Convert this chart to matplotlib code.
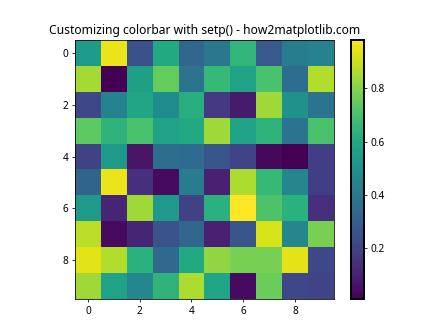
import numpy as np
import matplotlib
matplotlib.use('Agg')
import matplotlib.pyplot as plt

plt.rcParams['font.family'] = ['Noto Sans', 'DejaVu Sans']
plt.rcParams['font.size'] = 10.4

# 10x10 values (viridis)
row_0 = [0.54, 0.95, 0.25, 0.60, 0.33, 0.40, 0.65, 0.28, 0.42, 0.44]
row_1 = [0.85, 0.01, 0.56, 0.75, 0.38, 0.66, 0.57, 0.70, 0.36, 0.87]
row_2 = [0.22, 0.44, 0.58, 0.48, 0.62, 0.17, 0.08, 0.84, 0.51, 0.38]
row_3 = [0.74, 0.64, 0.70, 0.57, 0.60, 0.84, 0.57, 0.64, 0.38, 0.70]
row_4 = [0.20, 0.53, 0.06, 0.36, 0.35, 0.27, 0.21, 0.03, 0.01, 0.19]
row_5 = [0.32, 0.95, 0.14, 0.04, 0.42, 0.10, 0.86, 0.66, 0.46, 0.19]
row_6 = [0.53, 0.11, 0.84, 0.53, 0.20, 0.63, 0.98, 0.71, 0.63, 0.14]
row_7 = [0.88, 0.04, 0.11, 0.26, 0.33, 0.10, 0.27, 0.92, 0.46, 0.78]
row_8 = [0.94, 0.87, 0.63, 0.34, 0.60, 0.82, 0.78, 0.78, 0.94, 0.22]
row_9 = [0.84, 0.57, 0.46, 0.64, 0.86, 0.58, 0.04, 0.76, 0.22, 0.21]

data = np.array([row_0, row_1, row_2, row_3, row_4,
                 row_5, row_6, row_7, row_8, row_9])

fig, ax = plt.subplots(figsize=(6.4, 4.8), dpi=70)
im = ax.imshow(data, cmap='viridis')
cbar = plt.colorbar(im, ax=ax)

# colorbar styling via setp
plt.setp(cbar.ax.get_yticklabels(), fontweight='bold')
plt.setp(cbar.outline, linewidth=2)

ax.set_title('Customizing colorbar with setp() - how2matplotlib.com')

plt.savefig('out.png', dpi=70)
plt.close()
